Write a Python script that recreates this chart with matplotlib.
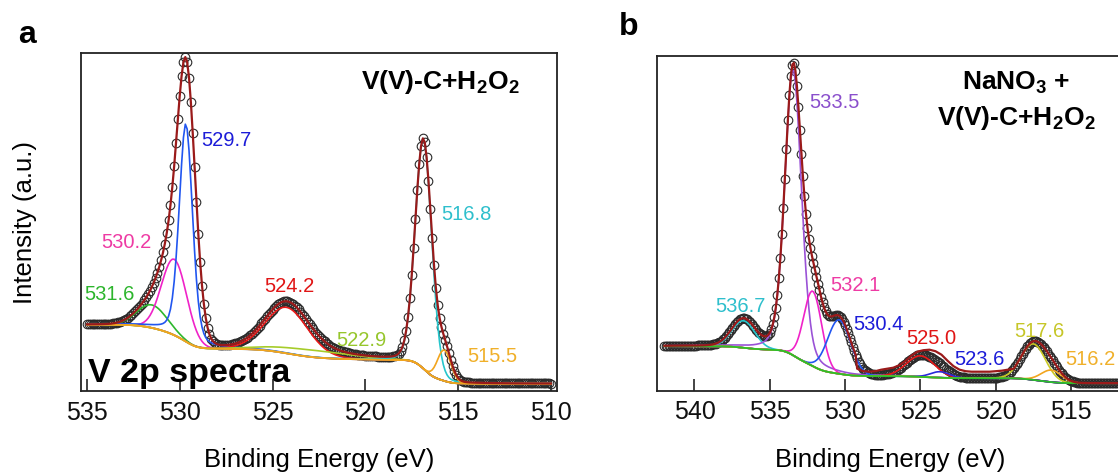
import numpy as np
import matplotlib
matplotlib.use("Agg")
import matplotlib.pyplot as plt

plt.rcParams['font.family'] = ['Liberation Sans', 'DejaVu Sans']
plt.rcParams['mathtext.fontset'] = 'custom'
plt.rcParams['mathtext.rm'] = 'Liberation Sans'
plt.rcParams['mathtext.bf'] = 'Liberation Sans:bold'
plt.rcParams['mathtext.default'] = 'bf'

# ---------------- data: panel a (V(V)-C+H2O2) ----------------
A_E_START, A_E_STOP, E_STEP = 535.0, 510.0, 0.1
A_MEAS_CENTERS = [531.5, 530.3, 529.62, 524.25, 522.9, 516.87, 515.75]
A_MEAS_HEIGHTS = [23, 76, 234, 46, 7, 230, 31]
A_MEAS_FWHM = [1.9, 1.6, 1.12, 2.7, 5.0, 1.05, 0.85]
A_MEAS_ETA = [0.0, 0.0, 0.1, 0.1, 0.0, 0.1, 0.0]
A_STEPS = [6, 9, 9, 8, 3, 20, 4]
A_BG_LOW = 7.3
# fitted components drawn as coloured lines
A_CENTERS = [531.5, 530.3, 529.67, 524.25, 522.9, 516.87, 515.75]
A_HEIGHTS = [23, 76, 218, 46, 7, 230, 31]
A_FWHM = [1.9, 1.6, 0.85, 2.7, 5.0, 1.05, 0.85]
A_ETA = [0.0, 0.0, 0.3, 0.1, 0.0, 0.1, 0.0]
A_LABELS = ['531.6', '530.2', '529.7', '524.2', '522.9', '516.8', '515.5']

# ---------------- data: panel b (NaNO3 + V(V)-C+H2O2) ----------------
B_E_START, B_E_STOP = 542.0, 510.0
B_CENTERS = [536.75, 533.45, 532.15, 530.4, 525.0, 523.7, 517.5, 516.3]
B_HEIGHTS = [27, 286, 75, 54, 21, 6, 36, 12]
B_FWHM = [1.8, 1.3, 1.4, 1.8, 2.2, 1.5, 1.9, 1.6]
B_ETA = [0.0, 0.25, 0.0, 0.0, 0.0, 0.0, 0.0, 0.0]
B_STEPS = [3, 13, 10, 4, 1.5, 0.5, 3.5, 1.5]
B_BG_LOW = 7.5
B_LABELS = ['536.7', '533.5', '532.1', '530.4', '525.0', '523.6', '517.6', '516.2']
# measured dark-red trace between 529 and 519 eV in panel b
B_TRACE_E = [529.2, 528.8, 528.4, 528.0, 527.6, 527.2, 526.8, 526.4, 526.0, 525.6,
             525.2, 524.8, 524.4, 524.0, 523.6, 523.2, 522.8, 522.4, 522.0, 521.6,
             521.2, 520.8, 520.4, 520.0, 519.6, 519.2, 518.8]
B_TRACE_I = [22.0, 19.5, 19.0, 19.5, 21.0, 22.0, 23.0, 25.5, 29.5, 35.0,
             39.0, 40.5, 41.0, 39.5, 36.0, 30.0, 24.5, 21.0, 19.5, 19.0,
             19.0, 19.0, 19.0, 19.5, 20.0, 21.0, 22.0]

# ---------------- styles ----------------
A_COLORS = ['#2db82d', '#f022c8', '#2156f0', '#e81818', '#a6cc2a', '#26c6cc', '#f2a51e']
A_LABEL_COLORS = ['#2cb52c', '#ee3ba4', '#1c1cd8', '#e01515', '#96c62c', '#2ebfcc', '#f0b02a']
B_COLORS = ['#26c6cc', '#9a52d6', '#f022c8', '#2156f0', '#e81818', '#2a2ad8', '#c9c924', '#f2a51e']
B_LABEL_COLORS = ['#2ebfcc', '#8a4fcc', '#ee3ba4', '#1c1cd8', '#e01515', '#1c1cd8', '#c6c628', '#f0b02a']
ENV_COLOR = '#9a1a1a'
BG_COLOR_A = '#f2a51e'
BG_COLOR_B = '#2bbf2b'

A_LABEL_X = [533.8, 532.85, 527.5, 524.1, 520.2, 514.55, 513.15]
A_LABEL_Y = [96, 149, 250, 104, 51, 176, 35]
B_LABEL_X = [536.95, 530.7, 529.35, 527.8, 524.3, 521.1, 517.1, 513.7]
B_LABEL_Y = [84, 288, 105, 66, 52, 31, 59, 31]


def profile(E, c, h, w, eta):
    g = np.exp(-4 * np.log(2) * (E - c) ** 2 / w ** 2)
    lo = 1.0 / (1.0 + 4 * (E - c) ** 2 / w ** 2)
    return h * (eta * lo + (1 - eta) * g)


def peaks_of(E, centers, heights, fwhm, eta):
    return [profile(E, c, h, w, e) for c, h, w, e in zip(centers, heights, fwhm, eta)]


def shirley_like(E, peaks, steps, low):
    bg = np.full_like(E, low)
    for p, s in zip(peaks, steps):
        cum = np.cumsum(p[::-1])[::-1]       # area below each energy
        bg = bg + s * cum / cum[0]
    return bg


W, H = 1118, 475
fig = plt.figure(figsize=(W / 100, H / 100), dpi=100)

def ax_rect(l, t, r, b):
    return [l / W, 1 - b / H, (r - l) / W, (b - t) / H]

axa = fig.add_axes(ax_rect(81, 52.7, 556.7, 391))
axb = fig.add_axes(ax_rect(657.3, 55.5, 657.3 + 32.47 * 15.06, 390.7))

# ---- panel a ----
Ea = np.round(np.arange(A_E_START, A_E_STOP - 0.05, -E_STEP), 2)
meas_a = peaks_of(Ea, A_MEAS_CENTERS, A_MEAS_HEIGHTS, A_MEAS_FWHM, A_MEAS_ETA)
bg_a = shirley_like(Ea, meas_a, A_STEPS, A_BG_LOW)
env_a = bg_a + np.sum(meas_a, axis=0)
comp_a = peaks_of(Ea, A_CENTERS, A_HEIGHTS, A_FWHM, A_ETA)
axa.plot(Ea, env_a, 'o', ms=6.2, mfc='none', mec='#2a2a2a', mew=0.8, zorder=2)
for p, col in zip(comp_a, A_COLORS):
    axa.plot(Ea, bg_a + p, color=col, lw=1.2, zorder=3)
axa.plot(Ea, bg_a, color=BG_COLOR_A, lw=1.2, zorder=3.5)
axa.plot(Ea, env_a, color=ENV_COLOR, lw=1.6, zorder=4)
for t, x, y, c in zip(A_LABELS, A_LABEL_X, A_LABEL_Y, A_LABEL_COLORS):
    axa.text(x, y, t, color=c, fontsize=14.5, ha='center', va='center', zorder=5)
axa.text(511.7, 309, r'V(V)-C+H$_2$O$_2$', fontsize=19, fontweight='bold',
         ha='right', va='center', zorder=5)
axa.text(534.95, 9, 'V 2p spectra', fontsize=24.5, fontweight='bold',
         ha='left', va='baseline', zorder=6)
axa.set_xlim(535.32, 509.69)
axa.set_ylim(0, 338.3)
axa.set_xticks([535, 530, 525, 520, 515, 510])

# ---- panel b ----
Eb = np.round(np.arange(B_E_START, B_E_STOP - 0.05, -E_STEP), 2)
pk_b = peaks_of(Eb, B_CENTERS, B_HEIGHTS, B_FWHM, B_ETA)
bg_b = shirley_like(Eb, pk_b, B_STEPS, B_BG_LOW)
env_b = bg_b + np.sum(pk_b, axis=0)
axb.plot(Eb, env_b, 'o', ms=6.2, mfc='none', mec='#2a2a2a', mew=0.8, zorder=2)
for p, col in zip(pk_b, B_COLORS):
    axb.plot(Eb, bg_b + p, color=col, lw=1.2, zorder=3)
axb.plot(Eb, bg_b, color=BG_COLOR_B, lw=1.3, zorder=3.5)
left = Eb > B_TRACE_E[0] + 1e-6
right = Eb < B_TRACE_E[-1] - 1e-6
red_x = np.concatenate([Eb[left], B_TRACE_E, Eb[right]])
red_y = np.concatenate([env_b[left], B_TRACE_I, env_b[right]])
axb.plot(red_x, red_y, color=ENV_COLOR, lw=1.6, zorder=4)
for t, x, y, c in zip(B_LABELS, B_LABEL_X, B_LABEL_Y, B_LABEL_COLORS):
    axb.text(x, y, t, color=c, fontsize=14.5, ha='center', va='center', zorder=5)
axb.text(518.65, 307.5, r'NaNO$_3$ +', fontsize=19, fontweight='bold',
         ha='center', va='center', zorder=5)
axb.text(518.65, 272.5, r'V(V)-C+H$_2$O$_2$', fontsize=19, fontweight='bold',
         ha='center', va='center', zorder=5)
axb.set_xlim(542.47, 510.0)
axb.set_ylim(0, 335.2)
axb.set_xticks([540, 535, 530, 525, 520, 515])

for ax in (axa, axb):
    ax.set_yticks([])
    ax.tick_params(axis='x', direction='in', length=9, width=1.1, labelsize=18,
                   pad=7, colors='#111111')
    for s in ax.spines.values():
        s.set_linewidth(1.3)
        s.set_color('#222222')

# axis titles and panel letters
fig.text(319 / W, 1 - 460 / H, 'Binding Energy (eV)', fontsize=18.5, ha='center', va='center')
fig.text(890 / W, 1 - 460 / H, 'Binding Energy (eV)', fontsize=18.5, ha='center', va='center')
fig.text(25 / W, 1 - 222 / H, 'Intensity (a.u.)', fontsize=18.5, rotation=90,
         ha='center', va='center')
fig.text(18 / W, 1 - 43 / H, 'a', fontsize=23, fontweight='bold', ha='left', va='baseline')
fig.text(619 / W, 1 - 35 / H, 'b', fontsize=23, fontweight='bold', ha='left', va='baseline')

fig.savefig('out.png', dpi=100)
